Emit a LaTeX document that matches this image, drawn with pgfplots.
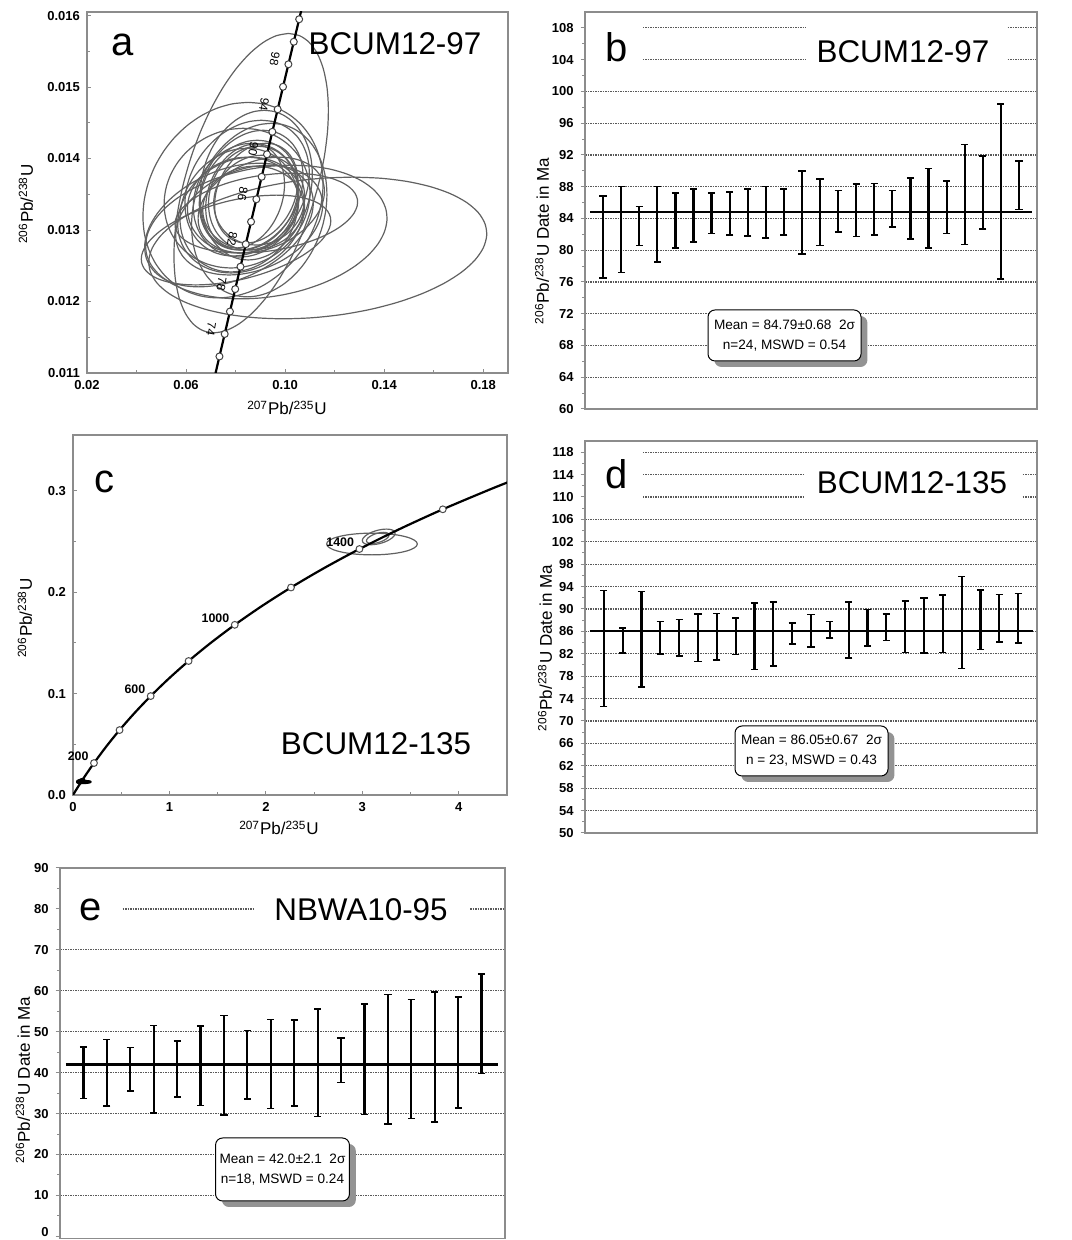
\documentclass[border=0pt]{standalone}
\usepackage{pgfplots}
\pgfplotsset{compat=1.18}
\usepackage{pgfplotstable}
\usepackage{fontspec}
\setmainfont{Liberation Sans}
\usetikzlibrary{shadows}

\definecolor{framec}{gray}{0.55}
\definecolor{ellc}{gray}{0.38}
\definecolor{gridc}{gray}{0.35}

\newcommand\tickf{\fontsize{6.5}{7.5}\selectfont\bfseries}
\newcommand\labf{\fontsize{8.5}{10}\selectfont}
\newcommand\bigf{\fontsize{15.7}{18}\selectfont}
\newcommand\letf{\fontsize{20}{22}\selectfont}
\newcommand\boxf{\fontsize{6.8}{10}\selectfont}
\newcommand\agef{\fontsize{6}{7}\selectfont}
\newcommand\agebf{\fontsize{6.2}{7}\selectfont\bfseries}

% unit circle, 10 degree steps
\pgfplotstableread{
c s
1 0
0.98481 0.17365
0.93969 0.34202
0.86603 0.5
0.76604 0.64279
0.64279 0.76604
0.5 0.86603
0.34202 0.93969
0.17365 0.98481
0 1
-0.17365 0.98481
-0.34202 0.93969
-0.5 0.86603
-0.64279 0.76604
-0.76604 0.64279
-0.86603 0.5
-0.93969 0.34202
-0.98481 0.17365
-1 0
-0.98481 -0.17365
-0.93969 -0.34202
-0.86603 -0.5
-0.76604 -0.64279
-0.64279 -0.76604
-0.5 -0.86603
-0.34202 -0.93969
-0.17365 -0.98481
0 -1
0.17365 -0.98481
0.34202 -0.93969
0.5 -0.86603
0.64279 -0.76604
0.76604 -0.64279
0.86603 -0.5
0.93969 -0.34202
0.98481 -0.17365
1 0
}\unitcircle

% concordia 70-104 Ma
\pgfplotstableread{
t x y lab
70 0.0713713 0.0109179 {}
72 0.0734838 0.0112316 {}
74 0.0756003 0.0115454 74
76 0.0777209 0.0118593 {}
78 0.0798459 0.0121733 78
80 0.0819749 0.0124873 {}
82 0.0841082 0.0128015 82
84 0.0862457 0.0131158 {}
86 0.0883873 0.0134302 86
88 0.0905333 0.0137446 {}
90 0.0926834 0.0140593 90
92 0.0948377 0.0143738 {}
94 0.0969963 0.0146886 94
96 0.0991592 0.0150035 {}
98 0.1013263 0.0153185 98
100 0.1034978 0.0156334 {}
102 0.1056736 0.0159487 {}
104 0.1078536 0.0162638 {}
}\concA

% concordia 0-1750 Ma
\pgfplotstableread{
t x y lab
0 0 0 {}
50 0.050475 0.0077864 {}
100 0.103498 0.015633 {}
150 0.159197 0.023542 {}
200 0.217708 0.031511 200
300 0.343737 0.047637 {}
400 0.482811 0.064016 {}
500 0.636280 0.080650 {}
600 0.805631 0.097544 600
700 0.992510 0.114702 {}
800 1.198730 0.132129 {}
900 1.426295 0.149828 {}
1000 1.677410 0.167804 1000
1100 1.954517 0.186060 {}
1200 2.260302 0.204603 {}
1300 2.597738 0.223435 {}
1400 2.970094 0.242562 1400
1500 3.380990 0.261987 {}
1600 3.834412 0.281716 {}
1700 4.334769 0.301754 {}
1750 4.604 0.31189 {}
}\concC

\pgfplotstableread{
i c e
1 81.65 5.15
2 82.60 5.40
3 83.05 2.45
4 83.25 4.75
5 83.75 3.45
6 84.35 3.35
7 84.65 2.55
8 84.60 2.70
9 84.75 2.95
10 84.75 3.25
11 84.80 2.90
12 84.75 5.25
13 84.80 4.20
14 84.90 2.60
15 85.00 3.30
16 85.15 3.25
17 85.20 2.30
18 85.25 3.85
19 85.30 5.00
20 85.40 3.30
21 87.00 6.30
22 87.30 4.60
23 87.40 11.00
24 88.15 3.05
}\barsB

\pgfplotstableread{
i c e
1 82.95 10.35
2 84.35 2.25
3 84.60 8.50
4 84.90 2.90
5 84.85 3.25
6 84.85 4.25
7 85.05 4.15
8 85.15 3.25
9 85.15 5.95
10 85.50 5.70
11 85.60 1.90
12 86.10 2.90
13 86.30 1.50
14 86.30 5.00
15 86.65 3.25
16 86.75 2.35
17 86.80 4.60
18 87.05 4.95
19 87.35 5.15
20 87.60 8.20
21 88.10 5.30
22 88.35 4.25
23 88.35 4.45
}\barsD

\pgfplotstableread{
i c e
1 40.00 6.30
2 40.00 8.10
3 40.80 5.30
4 40.80 10.70
5 40.95 6.85
6 41.70 9.70
7 41.80 12.20
8 41.90 8.40
9 42.10 10.90
10 42.35 10.45
11 42.40 13.10
12 43.05 5.45
13 43.25 13.45
14 43.30 15.80
15 43.35 14.55
16 43.85 15.85
17 44.95 13.55
18 51.95 12.15
}\barsE

\pgfplotsset{
  panel/.style={scale only axis, anchor=south west, clip=true,
    axis line style={framec, line width=0.6pt},
    tick style={framec, line width=0.5pt},
    tick label style={font=\tickf, text=black},
    /pgf/number format/assume math mode=true,
    scaled ticks=false,
    major tick length=2.2pt, minor tick length=1.4pt},
  conc/.style={panel, tick align=inside, xtick pos=left, ytick pos=left},
  wm/.style={panel, tick align=outside, ytick pos=left, xtick=\empty,
    minor y tick num=1, ymajorgrids,
    major grid style={gridc, line width=0.6pt, dash pattern=on 0.8pt off 0.45pt}},
  ell/.style={ellc, line width=0.6pt, smooth},
  ebar/.style={draw=none, mark=none,
    error bars/.cd, y dir=both, y explicit,
    error bar style={draw=black, solid, line width=1.1pt},
    error mark options={draw=black, solid, rotate=90, line width=0.8pt, mark size=1.8pt}},
}

\begin{document}
\begin{tikzpicture}
\useasboundingbox (0,0) rectangle (535.5pt,620pt);

% ---------- a ----------
\begin{axis}[conc, at={(43.5pt,433.5pt)}, width=210.5pt, height=180.5pt,
  xmin=0.02, xmax=0.19, ymin=0.011, ymax=0.01605,
  xtick={0.02,0.06,0.10,0.14,0.18}, minor xtick={0.04,0.08,0.12,0.16},
  ytick={0.011,0.012,0.013,0.014,0.015,0.016},
  minor ytick={0.0115,0.0125,0.0135,0.0145,0.0155},
  xticklabel style={/pgf/number format/fixed, /pgf/number format/fixed zerofill, /pgf/number format/precision=2},
  yticklabel style={/pgf/number format/fixed, /pgf/number format/fixed zerofill, /pgf/number format/precision=3}]
\foreach \ecx/\ecy/\eA/\eB/\eC in {
 0.08629/0.013656/0.015075/0.027298/0.0020933,
 0.11318/0.012749/0.013853/0.066820/0.00099081,
 0.09240/0.012972/0.010186/0.047670/0.00093499,
 0.07896/0.013418/0.0061116/0.035855/0.0013676,
 0.08955/0.013279/0.0048893/0.026891/0.0012141,
 0.09240/0.013237/0.010186/0.035447/0.0005582,
 0.08018/0.012860/0.016298/0.034632/0.00062798,
 0.07733/0.013070/0.012223/0.031780/0.00086521,
 0.08548/0.013488/0.0032595/0.019557/0.00076753,
 0.08711/0.013446/0.0020372/0.017927/0.00072566,
 0.08425/0.013418/0.0024446/0.021187/0.00079544,
 0.08833/0.013516/0.0040744/0.016298/0.00069775,
 0.08303/0.013349/0.0016298/0.022409/0.00066984,
 0.08629/0.013558/0.0048893/0.020372/0.0008373,
 0.08140/0.013279/0.0032595/0.023632/0.00086521,
 0.08955/0.013418/0.0012223/0.018335/0.00062798,
 0.08466/0.013586/0.0057042/0.024446/0.00094894,
 0.08222/0.013209/0.0040744/0.025261/0.00080939,
 0.08711/0.013307/0.00081488/0.020372/0.00058611,
 0.08385/0.013474/0.003667/0.015483/0.00072566,
 0.09037/0.013349/0.0073339/0.024446/0.00066984,
 0.08059/0.013446/0.0024446/0.029336/0.00097685,
 0.08548/0.013139/0.0081488/0.028521/0.00076753,
 0.08833/0.013628/0.0032595/0.022409/0.0010466}{
  \edef\temp{\noexpand\addplot[ell] table[x expr={\ecx+\eA*\noexpand\thisrow{c}+\eB*\noexpand\thisrow{s}}, y expr={\ecy+\eC*\noexpand\thisrow{c}}] {\noexpand\unitcircle};}
  \temp
}
\addplot[black, line width=1.1pt, smooth] table[x=x, y=y] {\concA};
\addplot[only marks, mark=*, mark size=1.75pt,
  mark options={fill=white, draw=black!75, line width=0.5pt},
  restrict x to domain=0.073:0.106,
  nodes near coords, point meta=explicit symbolic,
  every node near coord/.append style={font=\agef, text=black, anchor=center, inner sep=0pt, xshift=-6.8pt, yshift=2.5pt, rotate=-100}]
  table[x=x, y=y, meta=lab] {\concA};
\end{axis}

% ---------- b ----------
\begin{axis}[wm, at={(292.5pt,415.5pt)}, width=226pt, height=198.5pt,
  xmin=0, xmax=25, ymin=60, ymax=110, ytick={60,64,...,108}]
\fill[white] (axis cs:0.06,102) rectangle (axis cs:3.21,109.8);
\fill[white] (axis cs:12.22,102) rectangle (axis cs:23.34,109.8);
\addplot[black, line width=1.2pt] coordinates {(0.3,84.79) (24.7,84.79)};
\addplot[ebar] table[x=i, y=c, y error=e] {\barsB};
\end{axis}

% ---------- c ----------
\begin{axis}[conc, at={(36.5pt,222.5pt)}, width=217pt, height=180pt,
  xmin=0, xmax=4.5, ymin=0, ymax=0.355,
  xtick={0,1,2,3,4}, minor x tick num=1,
  ytick={0,0.1,0.2,0.3}, minor y tick num=1,
  yticklabel style={/pgf/number format/fixed, /pgf/number format/fixed zerofill, /pgf/number format/precision=1}]
\foreach \ecx/\ecy/\eA/\eB/\eC in {
 3.10/0.2475/0/0.47/0.0107,
 3.17/0.2545/0.08/0.15/0.0077,
 3.16/0.2535/0.06/0.10/0.0055}{
  \edef\temp{\noexpand\addplot[ell] table[x expr={\ecx+\eA*\noexpand\thisrow{c}+\eB*\noexpand\thisrow{s}}, y expr={\ecy+\eC*\noexpand\thisrow{c}}] {\noexpand\unitcircle};}
  \temp
}
\foreach \ecx/\ecy/\eA/\eB/\eC in {
 0.08629/0.013656/0.015075/0.027298/0.0020933,
 0.11318/0.012749/0.013853/0.066820/0.00099081,
 0.07896/0.013418/0.0061116/0.035855/0.0013676}{
  \edef\temp{\noexpand\addplot[black, line width=1.1pt, smooth] table[x expr={\ecx+\eA*\noexpand\thisrow{c}+\eB*\noexpand\thisrow{s}}, y expr={\ecy+\eC*\noexpand\thisrow{c}}] {\noexpand\unitcircle};}
  \temp
}
\addplot[black, line width=1.1pt, smooth] table[x=x, y=y] {\concC};
\addplot[only marks, mark=*, mark size=1.7pt,
  mark options={fill=white, draw=black!70, line width=0.5pt},
  nodes near coords, point meta=explicit symbolic,
  every node near coord/.append style={font=\agebf, text=black, anchor=south east, inner sep=0pt, xshift=-2.5pt, yshift=0.8pt}]
  table[x=x, y=y, meta=lab] {
t x y lab
200 0.217708 0.031511 200
400 0.482811 0.064016 {}
600 0.805631 0.097544 600
800 1.198730 0.132129 {}
1000 1.677410 0.167804 1000
1200 2.260302 0.204603 {}
1400 2.970094 0.242562 1400
1600 3.834412 0.281716 {}
};
\end{axis}

% ---------- d ----------
\begin{axis}[wm, at={(292.5pt,203.5pt)}, width=226pt, height=196pt,
  xmin=0, xmax=24, ymin=50, ymax=120, ytick={50,54,...,118}]
\fill[white] (axis cs:0.06,108) rectangle (axis cs:3.08,119.8);
\fill[white] (axis cs:11.68,108) rectangle (axis cs:23.2,116);
\addplot[black, line width=1.2pt] coordinates {(0.24,86.05) (23.78,86.05)};
\addplot[ebar] table[x=i, y=c, y error=e] {\barsD};
\end{axis}

% ---------- e ----------
\begin{axis}[wm, at={(30pt,0.6pt)}, width=222.5pt, height=185.4pt,
  xmin=0, xmax=19, ymin=-0.6, ymax=90, ytick={10,20,...,90},
  minor y tick num=0, minor ytick={5,15,...,85},
  extra y ticks={0},
  extra y tick style={grid=none, yticklabel style={yshift=2.4pt}}]
\fill[white] (axis cs:0.06,75) rectangle (axis cs:2.65,85);
\fill[white] (axis cs:8.33,75) rectangle (axis cs:17.5,85);
\addplot[black, line width=1.2pt] coordinates {(0.25,42.0) (18.72,42.0)};
\addplot[ebar] table[x=i, y=c, y error=e] {\barsE};
\end{axis}

% ---------- texts ----------
\node[font=\letf] at (61.5pt,597.5pt) {a};
\node[font=\bigf] at (197.5pt,598pt) {BCUM12-97};
\node[font=\letf] at (308.5pt,596.5pt) {b};
\node[font=\bigf] at (451.5pt,594pt) {BCUM12-97};
\node[font=\letf] at (52pt,379pt) {c};
\node[font=\bigf] at (188pt,248pt) {BCUM12-135};
\node[font=\letf] at (308.5pt,383pt) {d};
\node[font=\bigf] at (456pt,378.5pt) {BCUM12-135};
\node[font=\letf] at (45.5pt,165pt) {e};
\node[font=\bigf] at (180.5pt,165pt) {NBWA10-95};

\node[font=\labf, rotate=90] at (13pt,518pt) {\textsuperscript{206}Pb/\textsuperscript{238}U};
\node[font=\labf] at (143.5pt,416pt) {\textsuperscript{207}Pb/\textsuperscript{235}U};
\node[font=\labf, rotate=90] at (271pt,499.5pt) {\textsuperscript{206}Pb/\textsuperscript{238}U Date in Ma};
\node[font=\labf, rotate=90] at (12.5pt,311pt) {\textsuperscript{206}Pb/\textsuperscript{238}U};
\node[font=\labf] at (139.5pt,206pt) {\textsuperscript{207}Pb/\textsuperscript{235}U};
\node[font=\labf, rotate=90] at (272.5pt,296pt) {\textsuperscript{206}Pb/\textsuperscript{238}U Date in Ma};
\node[font=\labf, rotate=90] at (11.5pt,80pt) {\textsuperscript{206}Pb/\textsuperscript{238}U Date in Ma};

\tikzset{mbox/.style={draw=black, line width=0.5pt, fill=white, rounded corners=3.5pt,
  align=center, font=\boxf, inner sep=2pt,
  drop shadow={shadow xshift=3.2pt, shadow yshift=-3pt, fill=gray!85, opacity=1}}}
\node[mbox, minimum width=76.5pt, minimum height=25.5pt] at (392.25pt,452.25pt)
  {Mean = 84.79±0.68\ \ 2σ\\ n=24, MSWD = 0.54};
\node[mbox, minimum width=76.5pt, minimum height=25pt] at (405.75pt,244.5pt)
  {Mean = 86.05±0.67\ \ 2σ\\ n = 23, MSWD = 0.43};
\node[mbox, minimum width=65.5pt, minimum height=31.5pt] at (141.25pt,35.25pt)
  {Mean = 42.0±2.1\ \ 2σ\\ n=18, MSWD = 0.24};
\end{tikzpicture}
\end{document}
